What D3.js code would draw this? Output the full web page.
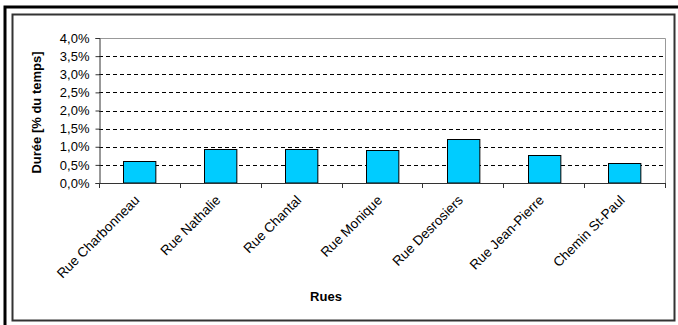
<!DOCTYPE html>
<html>
<head>
<meta charset="utf-8">
<script src="https://cdn.jsdelivr.net/npm/d3@7"></script>
<style>
  html, body { margin: 0; padding: 0; background: #fff; }
  svg { display: block; font-family: "Liberation Sans", Arial, sans-serif; }
</style>
</head>
<body>
<svg id="chart" width="678" height="325"></svg>
<script>
// Durée par rue (% du temps)
const categories = ["Rue Charbonneau", "Rue Nathalie", "Rue Chantal", "Rue Monique",
                    "Rue Desrosiers", "Rue Jean-Pierre", "Chemin St-Paul"];
const durations = [0.62, 0.93, 0.93, 0.90, 1.22, 0.76, 0.56];
const yTicks = [0, 0.5, 1.0, 1.5, 2.0, 2.5, 3.0, 3.5, 4.0];
const yTitle = "Durée [% du temps]";
const xTitle = "Rues";

const svg = d3.select("#chart");
const plot = { left: 99, right: 665, top: 38, bottom: 183 };

// Outer and inner frames
svg.append("rect").attr("x", 5).attr("y", 7).attr("width", 700).attr("height", 340)
  .attr("fill", "none").attr("stroke", "#000").attr("stroke-width", 3);
svg.append("rect").attr("x", 12.5).attr("y", 14.5).attr("width", 662).attr("height", 306)
  .attr("fill", "#fff").attr("stroke", "#333").attr("stroke-width", 2);

const x = d3.scaleBand().domain(categories).range([plot.left, plot.right])
  .paddingInner(0.6).paddingOuter(0.3);
const y = d3.scaleLinear().domain([0, 4]).range([plot.bottom, plot.top]);
const fmt = v => d3.format(".1f")(v).replace(".", ",") + "%";

// Plot area border (top/right)
svg.append("path")
  .attr("d", `M${plot.left},${plot.top + 0.5}H${plot.right + 0.5}V${plot.bottom}`)
  .attr("fill", "none").attr("stroke", "#999").attr("stroke-width", 1);

// Dashed gridlines
svg.append("g").selectAll("line")
  .data(yTicks.filter(v => v > 0 && v < 4))
  .join("line")
  .attr("x1", plot.left).attr("x2", plot.right)
  .attr("y1", d => Math.round(y(d)) + 0.5).attr("y2", d => Math.round(y(d)) + 0.5)
  .attr("stroke", "#000").attr("stroke-width", 1).attr("stroke-dasharray", "4,3");

// Bars
svg.append("g").selectAll("rect")
  .data(durations)
  .join("rect")
  .attr("x", (d, i) => Math.round(x(categories[i])) + 0.5)
  .attr("y", d => Math.round(y(d)) + 0.5)
  .attr("width", x.bandwidth())
  .attr("height", d => plot.bottom - Math.round(y(d)) - 0.5)
  .attr("fill", "#00CCFF").attr("stroke", "#000").attr("stroke-width", 1);

// Y axis
const yAxis = svg.append("g").attr("transform", `translate(${plot.left + 0.5},0)`)
  .call(d3.axisLeft(y).tickValues(yTicks).tickFormat(fmt).tickSize(4).tickPadding(6));
yAxis.select(".domain").attr("stroke", "#333");
yAxis.selectAll(".tick line").attr("stroke", "#333");
yAxis.selectAll("text").attr("font-size", "13px").attr("fill", "#000")
  .attr("font-family", "Liberation Sans, Arial, sans-serif");

// X axis: ticks on category boundaries
const bounds = d3.range(categories.length + 1).map(i => plot.left + i * (plot.right - plot.left) / categories.length);
const xg = svg.append("g");
xg.append("line").attr("x1", plot.left).attr("x2", plot.right + 1)
  .attr("y1", plot.bottom + 0.5).attr("y2", plot.bottom + 0.5)
  .attr("stroke", "#333").attr("stroke-width", 1);
xg.selectAll(".bt").data(bounds).join("line")
  .attr("x1", d => Math.round(d) + 0.5).attr("x2", d => Math.round(d) + 0.5)
  .attr("y1", plot.bottom).attr("y2", plot.bottom + 5)
  .attr("stroke", "#333");

// Rotated category labels
xg.selectAll(".lbl").data(categories).join("text")
  .attr("transform", d => `translate(${x(d) + x.bandwidth() / 2 + 1},${plot.bottom + 18}) rotate(-45)`)
  .attr("text-anchor", "end")
  .attr("font-size", "13.5px")
  .text(d => d);

// Axis titles
svg.append("text")
  .attr("transform", `translate(${41},${(plot.top + plot.bottom) / 2 + 2}) rotate(-90)`)
  .attr("text-anchor", "middle")
  .attr("font-weight", "bold").attr("font-size", "13px")
  .text(yTitle);
svg.append("text")
  .attr("x", 326).attr("y", 301)
  .attr("text-anchor", "middle")
  .attr("font-weight", "bold").attr("font-size", "13px")
  .text(xTitle);
</script>
</body>
</html>
